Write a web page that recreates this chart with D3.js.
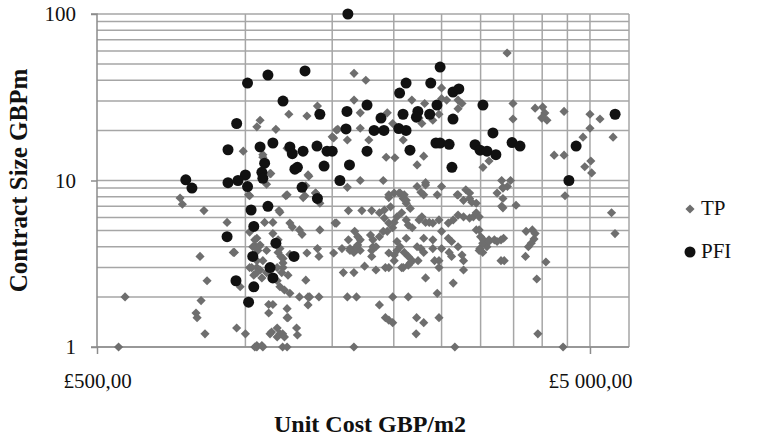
<!DOCTYPE html>
<html>
<script src="https://d3js.org/d3.v7.min.js"></script>

<head>
    <style>
        body {
            margin: 0;
            background-color: #ffffff;
        }

        svg {
            display: block;
        }
    </style>
</head>

<body>
</body>
<script>
    const width = 759,
        height = 440;

    // unit cost (GBP/m2), contract size (GBPm)
    const tpData = [
        [570, 2.0], [553, 1.0], [737, 7.85], [745, 7.2], [824, 6.6], [918, 5.6], [809, 3.5], [950, 3.7], [836, 2.5], [813, 1.9],
        [794, 1.6], [798, 1.5], [828, 1.2], [960, 1.3], [1000, 1.2], [976, 2.3], [1015, 8.2], [1020, 4.9], [1055, 1.0],
        [990, 15], [1055, 21], [1071, 23],
        [1085, 14.3], [1085, 13.8], [1126, 11], [1340, 10.8], [1104, 9.5], [1020, 8.1], [1208, 8.1], [1320, 8.1], [1388, 8.4],
        [1170, 6.6], [1094, 5.6], [1137, 5.6], [1231, 5.55], [1245, 5.25], [1287, 5.05], [1303, 4.75], [1416, 5.05], [1055, 4.5],
        [1065, 4.0], [1045, 4.05], [945, 3.7], [1175, 3.9], [1180, 3.5], [1192, 3.2], [1333, 3.67], [1400, 3.9], [1410, 3.5],
        [1035, 4.0], [1060, 3.8], [1085, 3.3], [1055, 3.0], [1104, 2.8], [1130, 3.0], [1160, 2.5], [1175, 2.3], [1200, 2.2],
        [1231, 2.1], [1040, 2.7], [1020, 3.0], [1287, 2.0], [1350, 2.0], [1410, 2.0], [1115, 1.8], [1137, 1.8], [1215, 1.7],
        [1115, 1.6], [1220, 1.5], [1270, 1.3], [1275, 1.18], [1130, 1.23], [1160, 1.3], [1175, 1.2], [1200, 1.15], [1160, 1.15],
        [1055, 1.02], [1080, 1.02], [1190, 1.0],
        [1045, 4.4], [1071, 4.1], [1104, 3.8], [1165, 3.7], [1192, 3.4], [1055, 3.3], [1030, 3.0], [1071, 2.9], [1160, 3.0],
        [1185, 2.8], [1220, 2.7], [1055, 2.8], [1080, 2.6],
        [1215, 8.2], [1388, 8.4], [1416, 7.3], [1326, 9.3], [1310, 7.9], [1175, 6.45], [1530, 5.55], [1618, 6.6], [1723, 6.6],
        [1804, 6.6], [1914, 6.65], [1954, 7.9], [2004, 8.4], [2060, 8.4], [2090, 7.8], [1970, 6.95], [2120, 7.3], [2160, 6.8],
        [2230, 9.2], [2320, 9.4], [2300, 8.2], [2500, 9.2], [2450, 8.2], [2690, 8.2], [2770, 7.6], [2850, 7.8], [2940, 7.3],
        [3240, 8.4], [3330, 7.8], [3400, 9.2], [1618, 4.4], [1690, 4.1], [1630, 3.9], [1710, 3.8], [1660, 3.7], [1510, 3.67],
        [1580, 2.8], [1660, 2.8], [1745, 3.06], [1840, 2.9], [1923, 3.0], [1954, 3.0], [1804, 3.5], [1814, 4.0], [1954, 3.67],
        [2004, 3.57], [2030, 3.8], [2075, 3.0], [2140, 3.1], [2180, 3.3], [2320, 2.6], [2240, 3.3], [2270, 3.9], [2400, 3.9],
        [2470, 3.3], [2500, 3.9], [2770, 3.3], [2770, 2.9], [2620, 3.5], [2590, 3.7], [2640, 2.42], [2990, 3.9], [3030, 3.7],
        [3120, 4.4], [3200, 4.4], [3300, 4.4], [3300, 3.3], [1610, 2.0], [1680, 2.0], [1326, 2.52], [1340, 2.0], [1340, 1.79],
        [1990, 2.0], [2140, 2.0], [2450, 2.1], [1870, 1.79], [1923, 1.5], [1954, 1.45], [1990, 1.4], [2225, 1.5], [2300, 1.4],
        [2470, 1.5], [2220, 1.2], [1215, 1.5], [1122, 1.2], [1190, 1.2], [1045, 1.0], [1085, 1.0], [1215, 1.0], [1660, 1.0],
        [2660, 1.0], [1137, 4.8], [1165, 4.4], [1231, 3.6], [1192, 3.0],
        [1710, 10], [1904, 10], [1610, 9.1], [1954, 8.2], [2050, 8.4], [2100, 8.2], [2120, 7.6], [2270, 8.5], [2320, 9.7],
        [2700, 8.2], [2800, 8.8], [2850, 8.4], [2880, 7.4], [1520, 5.55], [1870, 6.4], [1914, 5.95], [1954, 5.55], [1990, 5.2],
        [1940, 4.95], [2004, 5.6], [2030, 6.05], [2075, 6.4], [2120, 5.8], [2140, 5.4], [2180, 5.2], [2250, 5.8], [2280, 6.05],
        [2320, 5.6], [2360, 5.6], [2400, 5.55], [2470, 5.8], [2580, 5.55], [2640, 5.8], [2700, 6.2], [2770, 6.05], [2850, 5.95],
        [2900, 6.05], [2940, 6.4], [2940, 5.05], [3000, 4.6], [3040, 4.4], [3090, 4.0], [2500, 4.95], [2580, 4.5], [2620, 4.3],
        [2700, 4.0], [2750, 3.57], [2300, 4.5], [2400, 4.4], [2230, 4.0], [2300, 3.7], [2120, 4.5], [2030, 4.3], [2060, 4.0],
        [2100, 3.7], [2140, 3.5], [2160, 3.2], [2004, 3.3], [1814, 4.4], [1870, 4.6], [1904, 4.95], [1794, 4.7], [1840, 4.0],
        [1804, 3.8], [1666, 4.95], [1690, 4.6], [1710, 4.4], [1680, 4.0], [1630, 3.8], [1570, 3.9], [2090, 3.0], [2470, 3.0],
        [2420, 3.3],
        [1661, 44], [1755, 40], [2176, 30.4], [2310, 29], [2500, 36], [2500, 31], [2560, 30.4], [2700, 30.4], [2750, 29],
        [2470, 25], [2400, 23], [2280, 22], [2700, 27], [1661, 30.4], [1710, 25.5], [1530, 20.1], [1710, 20.6], [1510, 18],
        [1610, 17.5], [1780, 17.5], [1940, 25.5], [1990, 22], [2090, 17.5], [2220, 24.7], [2250, 23.7], [1930, 13.8],
        [2010, 13.7], [2300, 14], [2230, 12.4], [3033, 12],
        [1400, 28], [1225, 25], [1333, 24.4], [1153, 20.3], [1500, 18.3], [1540, 20.3], [1122, 11], [1215, 15.6], [1345, 10.6],
        [3395, 58.3], [3120, 13.1], [3330, 9.1],
        [3490, 29], [3490, 23.4], [3870, 27.2], [4010, 27.6], [4050, 25.4], [3990, 23.7], [4090, 23], [4010, 24], [4430, 26],
        [5000, 25], [5240, 23.4], [5000, 20.6], [4840, 18.2], [5570, 18.2], [4230, 14.2], [4430, 14.2], [4880, 12.1],
        [5020, 13.1], [5040, 11.1], [3310, 10], [3450, 10], [3330, 9.0], [4450, 8.1],
        [5530, 6.4], [5620, 4.8], [3540, 7.1], [3310, 7.0], [3330, 6.85], [2980, 6.05], [2980, 5.05], [3030, 4.2], [2980, 3.8],
        [3120, 4.3], [3240, 4.3], [3340, 4.5], [3350, 3.3], [3700, 3.5], [3710, 4.95], [3820, 5.05], [3870, 4.8], [3850, 4.45],
        [3800, 4.2], [3750, 4.0], [4070, 3.24], [3900, 2.56], [3920, 1.2], [4410, 1.0]
    ];

    const pfiData = [
        [757, 10.1], [779, 9.0], [922, 15.3], [960, 22], [1010, 38.5], [1000, 10.8], [922, 9.7], [966, 10.0], [1010, 9.2],
        [1614, 100], [2483, 48], [1111, 43], [1321, 45.5], [2118, 38.5], [2377, 38.5], [2055, 33.5], [2637, 34], [2710, 35.5],
        [1192, 30], [1765, 28.4], [1607, 26], [1416, 25], [2447, 28.4], [2238, 26], [2365, 25], [2088, 25], [2223, 24],
        [2637, 23.4], [3033, 28.4], [1884, 23.7], [1600, 20.4], [1824, 20], [1910, 20], [2047, 20.5], [2118, 20], [2157, 15.2],
        [1765, 15], [2435, 16.8], [2483, 16.8], [2590, 16.5], [3178, 19.3], [2923, 16.4], [2992, 15.2], [3091, 15], [3222, 14.3],
        [2624, 12], [1626, 12.4], [1444, 12.2], [1555, 10], [1303, 9.1], [1400, 7.8], [1071, 15.9], [1137, 16.8], [1231, 15.9],
        [1245, 14.5], [1309, 15], [1397, 16.1], [1464, 15], [1500, 15], [1094, 12.7], [1080, 11.2], [1085, 10.3], [1260, 11.7],
        [1275, 12], [3475, 16.9], [3606, 16.1], [4687, 16.1], [5623, 25], [4532, 10], [1111, 7.0], [1027, 6.65], [918, 4.6],
        [1040, 5.3], [1153, 4.2], [1035, 3.5], [1255, 3.5], [1122, 3.0], [1137, 2.6], [957, 2.5], [1040, 2.3], [1015, 1.86]
    ];

    const seriesNames = ["TP", "PFI"];
    const xTickLabels = ["£500,00", "£5 000,00"];
    const xTicks = [500, 5000];
    const xGrid = [1000, 1500, 2000, 2500, 3000, 3500, 4000, 4500, 5000];
    const yTicks = [1, 10, 100];
    const yGrid = [1, 2, 3, 4, 5, 6, 7, 8, 9, 10, 20, 30, 40, 50, 60, 70, 80, 90, 100];

    const svg = d3.select("body").append("svg").attr("width", width).attr("height", height);

    const x = d3.scaleLog().domain([500, 6000]).range([97, 629]);
    const y = d3.scaleLog().domain([1, 100]).range([347, 14]);

    const gridColor = "#a6a6a6";
    const tpColor = "#6e6e6e";
    const pfiColor = "#111111";
    const serif = "'Liberation Serif', 'Times New Roman', serif";

    // gridlines
    svg.append("g").selectAll("line").data(yGrid).join("line")
        .attr("x1", x(500)).attr("x2", x(6000))
        .attr("y1", d => y(d)).attr("y2", d => y(d))
        .attr("stroke", gridColor).attr("stroke-width", 1.5);
    svg.append("g").selectAll("line").data(xGrid).join("line")
        .attr("x1", d => x(d)).attr("x2", d => x(d))
        .attr("y1", y(100)).attr("y2", y(1))
        .attr("stroke", gridColor).attr("stroke-width", 1.5);
    // right border
    svg.append("line")
        .attr("x1", x(6000)).attr("x2", x(6000)).attr("y1", y(100)).attr("y2", y(1))
        .attr("stroke", gridColor).attr("stroke-width", 1.5);

    // axes
    const yAxis = d3.axisLeft(y).tickValues(yTicks).tickSize(6).tickFormat(d3.format("d"));
    const xAxis = d3.axisBottom(x).tickValues(xTicks).tickSize(7).tickFormat((d, i) => xTickLabels[i]);

    const gy = svg.append("g").attr("transform", `translate(${x(500)},0)`).call(yAxis);
    gy.select(".domain").attr("stroke", "#8c8c8c").attr("stroke-width", 1.5).attr("d", `M-6,${y(100)}H0V${y(1)}H-6`);
    gy.selectAll(".tick line").attr("stroke", "#8c8c8c").attr("stroke-width", 1.5);
    gy.selectAll(".tick text").attr("x", -21).attr("font-family", serif).attr("font-size", 21).attr("fill", "#111");

    const gx = svg.append("g").attr("transform", `translate(0,${y(1)})`).call(xAxis);
    gx.select(".domain").attr("stroke", "#8c8c8c").attr("stroke-width", 1.5).attr("d", `M${x(500)},0H${x(6000)}`);
    gx.selectAll(".tick line").attr("stroke", "#8c8c8c").attr("stroke-width", 1.5);
    gx.selectAll(".tick text").attr("y", 26).attr("font-family", serif).attr("font-size", 21).attr("fill", "#111");

    // axis titles
    svg.append("text")
        .attr("transform", `translate(21,${(y(1) + y(100)) / 2}) rotate(-90)`)
        .attr("text-anchor", "middle").attr("dominant-baseline", "middle")
        .attr("font-family", serif).attr("font-weight", "bold").attr("font-size", 25).attr("fill", "#111")
        .text("Contract Size GBPm");
    svg.append("text")
        .attr("x", 370).attr("y", 426)
        .attr("text-anchor", "middle").attr("dominant-baseline", "middle")
        .attr("font-family", serif).attr("font-weight", "bold").attr("font-size", 24).attr("fill", "#111")
        .text("Unit Cost GBP/m2");

    // points
    const diamond = d3.symbol().type(d3.symbolSquare).size(42);
    svg.append("g").selectAll("path").data(tpData).join("path")
        .attr("d", diamond)
        .attr("transform", d => `translate(${x(d[0])},${y(d[1])}) rotate(45)`)
        .attr("fill", tpColor);
    svg.append("g").selectAll("circle").data(pfiData).join("circle")
        .attr("cx", d => x(d[0])).attr("cy", d => y(d[1])).attr("r", 5.5)
        .attr("fill", pfiColor);

    // legend
    const legend = svg.append("g");
    seriesNames.forEach((name, i) => {
        const ly = 209 + i * 43;
        if (i === 0) {
            legend.append("path").attr("d", diamond)
                .attr("transform", `translate(690,${ly}) rotate(45)`).attr("fill", tpColor);
        } else {
            legend.append("circle").attr("cx", 690).attr("cy", ly).attr("r", 5.5).attr("fill", pfiColor);
        }
        legend.append("text")
            .attr("x", 701).attr("y", ly + 1)
            .attr("dominant-baseline", "middle")
            .attr("font-family", serif).attr("font-size", 21).attr("fill", "#111")
            .text(name);
    });
</script>

</html>
